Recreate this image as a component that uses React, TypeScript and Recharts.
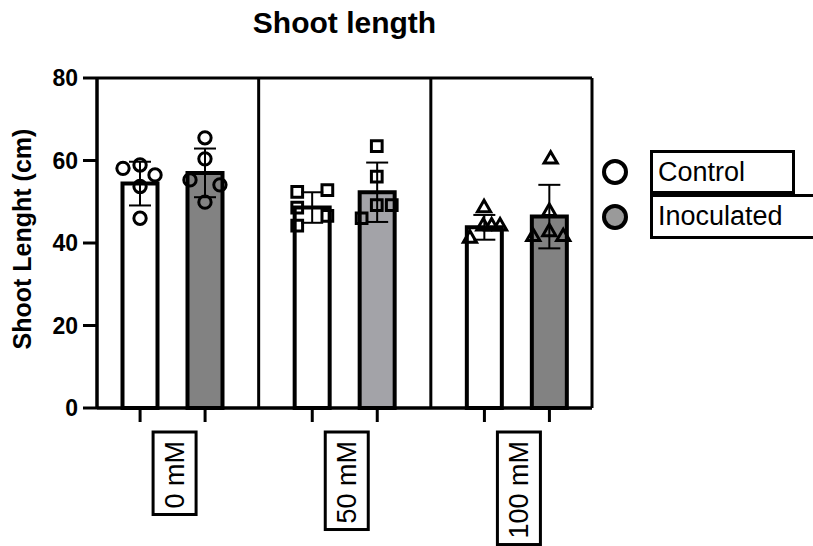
import React from "react";
import {
  Bar,
  Cell,
  ComposedChart,
  ErrorBar,
  Label,
  Legend,
  ReferenceLine,
  Scatter,
  Symbols,
  XAxis,
  YAxis,
} from "recharts";

const FONT = "'Liberation Sans', Arial, sans-serif";

const categories = ["0 mM", "50 mM", "100 mM"];
const controlMean = [54.4, 48.6, 43.8];
const inoculatedMean = [57.0, 52.3, 46.4];
const controlSd = [5.3, 3.7, 3.0];
const inoculatedSd = [5.9, 7.2, 7.7];
const inoculatedFills = ["#828282", "#a3a3a8", "#828282"];
const yTicks = [0, 20, 40, 60, 80];

const seriesNames = ["Control", "Inoculated"];
const legendFills = ["#ffffff", "#9a9a9a"];

// replicate points, x on a 0..3 group scale (group i spans i..i+1)
const pointShapes = ["circle", "square", "triangle"] as const;
const pointSizes = [120, 115, 75];
const controlX = [
  [0.212, 0.311, 0.398, 0.311, 0.311],
  [1.224, 1.399, 1.224, 1.399, 1.224],
  [2.309, 2.227, 2.305, 2.353, 2.402],
];
const controlY = [
  [58.1, 58.9, 56.5, 53.7, 46.0],
  [52.4, 52.8, 48.6, 46.6, 44.2],
  [48.5, 41.1, 44.1, 44.1, 44.1],
];
const inoculatedX = [
  [0.688, 0.688, 0.601, 0.775, 0.688],
  [1.686, 1.686, 1.686, 1.773, 1.598],
  [2.696, 2.688, 2.688, 2.595, 2.769],
];
const inoculatedY = [
  [65.5, 60.4, 55.3, 54.1, 49.9],
  [63.5, 56.1, 49.2, 49.2, 46.0],
  [60.3, 47.6, 42.7, 41.5, 41.5],
];

const barData = categories.map((name, i) => ({
  name,
  control: controlMean[i],
  inoculated: inoculatedMean[i],
  controlSd: controlSd[i],
  inoculatedSd: inoculatedSd[i],
}));

const pointData = categories.map((_, i) => [
  ...controlX[i].map((x, j) => ({ x, y: controlY[i][j] })),
  ...inoculatedX[i].map((x, j) => ({ x, y: inoculatedY[i][j] })),
]);

const ctx =
  typeof document !== "undefined" ? document.createElement("canvas").getContext("2d") : null;
function textWidth(s: string, font: string) {
  if (!ctx) return s.length * 14;
  ctx.font = font;
  return ctx.measureText(s).width;
}

const LABEL_SIZE = 27;
const BAR_OFFSET = 32.5;

function CategoryTick({ x, y, payload }: any) {
  const label = String(payload.value);
  const w = textWidth(label, `${LABEL_SIZE}px ${FONT}`);
  return (
    <g>
      <line x1={x - BAR_OFFSET} x2={x - BAR_OFFSET} y1={y} y2={y + 14} stroke="#000" strokeWidth={3} />
      <line x1={x + BAR_OFFSET} x2={x + BAR_OFFSET} y1={y} y2={y + 14} stroke="#000" strokeWidth={3} />
      <g transform={`translate(${x + 1.5}, ${y + 33}) rotate(-90)`}>
        <rect
          x={-w - 6}
          y={-21}
          width={w + 15}
          height={43}
          fill="#fff"
          stroke="#000"
          strokeWidth={3}
        />
        <text
          x={0}
          y={9.5}
          textAnchor="end"
          fontSize={LABEL_SIZE}
          fontFamily={FONT}
          fill="#000"
        >
          {label}
        </text>
      </g>
    </g>
  );
}

function LegendContent() {
  return (
    <div style={{ fontFamily: FONT }}>
      {seriesNames.map((name, i) => (
        <div key={name} style={{ display: "flex", alignItems: "center", height: i === 0 ? 44 : 45 }}>
          <svg width={30} height={30} style={{ display: "block" }}>
            <circle cx={15} cy={15} r={11} fill={legendFills[i]} stroke="#000" strokeWidth={4} />
          </svg>
          <div
            style={{
              marginLeft: 20,
              boxSizing: "border-box",
              width: i === 0 ? 145 : 175,
              height: i === 0 ? 44 : 45,
              border: "3px solid #000",
              fontSize: 27,
              lineHeight: i === 0 ? "38px" : "39px",
              paddingLeft: 5,
              color: "#000",
            }}
          >
            {name}
          </div>
        </div>
      ))}
    </div>
  );
}

export default function App() {
  return (
    <div
      style={{
        position: "absolute",
        left: 0,
        top: 0,
        width: 813,
        height: 546,
        overflow: "hidden",
        background: "#fff",
        fontFamily: FONT,
      }}
    >
      <ComposedChart
        width={813}
        height={546}
        data={barData}
        margin={{ top: 77, right: 220, bottom: 0, left: 0 }}
        barGap={30}
      >
        <XAxis
          xAxisId="cat"
          dataKey="name"
          height={138}
          padding={{ left: -10.5, right: -11 }}
          axisLine={{ stroke: "#000", strokeWidth: 3.5 }}
          tickLine={false}
          tickSize={0}
          tickMargin={0}
          interval={0}
          tick={<CategoryTick />}
        />
        <XAxis
          xAxisId="num"
          dataKey="x"
          type="number"
          orientation="top"
          domain={[0, 3]}
          allowDataOverflow
          height={1}
          padding={{ left: -10.5, right: -11 }}
          tick={false}
          tickLine={false}
          axisLine={{ stroke: "#000", strokeWidth: 3 }}
        />
        <YAxis
          width={97}
          domain={[0, 80]}
          ticks={yTicks}
          interval={0}
          tickSize={14}
          tickMargin={5}
          axisLine={{ stroke: "#000", strokeWidth: 3.5 }}
          tickLine={{ stroke: "#000", strokeWidth: 3 }}
          tick={{ fill: "#000", fontSize: 23, fontWeight: "bold", fontFamily: FONT }}
        >
          <Label
            content={() => (
              <text
                x={31}
                y={239}
                transform="rotate(-90 31 239)"
                textAnchor="middle"
                fontSize={25}
                fontWeight="bold"
                fontFamily={FONT}
                fill="#000"
              >
                Shoot Lenght (cm)
              </text>
            )}
          />
        </YAxis>
        <YAxis
          yAxisId="right"
          orientation="right"
          width={1}
          domain={[0, 80]}
          tick={false}
          tickLine={false}
          axisLine={{ stroke: "#000", strokeWidth: 3 }}
        />
        <Legend
          align="center"
          verticalAlign="middle"
          content={<LegendContent />}
          wrapperStyle={{ left: 600, top: 150, width: 240 }}
        />
        <Bar
          xAxisId="cat"
          dataKey="control"
          name={seriesNames[0]}
          barSize={35}
          fill="#ffffff"
          stroke="#000"
          strokeWidth={4}
          isAnimationActive={false}
        >
          <ErrorBar dataKey="controlSd" width={11} stroke="#000" strokeWidth={2} />
        </Bar>
        <Bar
          xAxisId="cat"
          dataKey="inoculated"
          name={seriesNames[1]}
          barSize={35}
          stroke="#000"
          strokeWidth={4}
          isAnimationActive={false}
        >
          {barData.map((d, i) => (
            <Cell key={d.name} fill={inoculatedFills[i]} />
          ))}
          <ErrorBar dataKey="inoculatedSd" width={11} stroke="#000" strokeWidth={2} />
        </Bar>
        <ReferenceLine xAxisId="num" x={1} stroke="#000" strokeWidth={3} />
        <ReferenceLine xAxisId="num" x={2} stroke="#000" strokeWidth={3} />
        {pointData.map((pts, i) => (
          <Scatter
            key={categories[i]}
            xAxisId="num"
            data={pts}
            dataKey="y"
            isAnimationActive={false}
            shape={(p: any) => (
              <Symbols
                cx={p.cx}
                cy={p.cy}
                type={pointShapes[i]}
                size={pointSizes[i]}
                fill="none"
                stroke="#000"
                strokeWidth={3}
              />
            )}
          />
        ))}
      </ComposedChart>
      <div
        style={{
          position: "absolute",
          left: 0,
          top: 8,
          width: 689,
          textAlign: "center",
          fontSize: 30,
          lineHeight: "30px",
          fontWeight: "bold",
          color: "#000",
        }}
      >
        Shoot length
      </div>
    </div>
  );
}
